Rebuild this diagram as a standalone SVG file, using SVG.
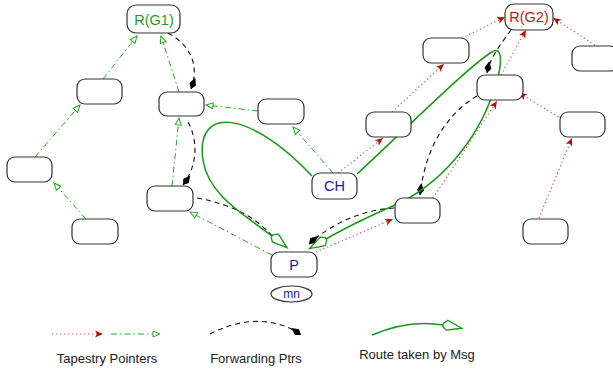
<svg xmlns="http://www.w3.org/2000/svg" width="613" height="372" viewBox="0 0 613 372">
  <style>
    .node rect { fill: #ffffff; stroke: #333333; stroke-width: 1.2; }
    .lbl { font-family: "Liberation Sans", Arial, sans-serif; font-size: 14.5px; text-anchor: middle; dominant-baseline: central; }
    .blue { fill: #1a1aa6; }
    .tap { fill: none; stroke: #dd4444; stroke-width: 1.2; stroke-dasharray: 1.2 2.8; marker-end: url(#redArrow); }
    .par { fill: none; stroke: #22aa22; stroke-width: 1; stroke-dasharray: 6 3 1.5 3; marker-end: url(#greenArrow); }
    .fwd { fill: none; stroke: #111111; stroke-width: 1.1; stroke-dasharray: 5 4; marker-end: url(#fwdArrow); }
    .route { fill: none; stroke: #119911; stroke-width: 1.5; marker-end: url(#routeArrow); }
    .legend { font-family: "Liberation Sans", Arial, sans-serif; font-size: 13px; fill: #222222; text-anchor: middle; }
  </style>
  <defs>
    <marker id="redArrow" markerUnits="userSpaceOnUse" markerWidth="12" markerHeight="10" viewBox="-9 -5 12 10" refX="0" refY="0" orient="auto">
      <path d="M0,0 L-8,-3.5 L-6,0 L-8,3.5 Z" fill="#b01010"/>
    </marker>
    <marker id="greenArrow" markerUnits="userSpaceOnUse" markerWidth="12" markerHeight="10" viewBox="-9 -5 12 10" refX="0" refY="0" orient="auto">
      <path d="M0,0 L-7,-3 L-7,3 Z" fill="#ffffff" stroke="#22aa22" stroke-width="1"/>
    </marker>
    <marker id="fwdArrow" markerUnits="userSpaceOnUse" markerWidth="16" markerHeight="10" viewBox="-14 -5 16 10" refX="0" refY="0" orient="auto">
      <path d="M0,0 L-5,-3.5 L-12,0 L-5,3.5 Z" fill="#000000"/>
    </marker>
    <marker id="routeArrow" markerUnits="userSpaceOnUse" markerWidth="24" markerHeight="14" viewBox="-2 -7 24 14" refX="0" refY="0" orient="auto">
      <path d="M0,-1.5 L4,-5.5 L19,0 L4,4.5 L0,1.5 Z" fill="#ffffff" stroke="#119911" stroke-width="1.3"/>
    </marker>
  </defs>

  <g id="connectors">
    <!-- parent pointers in the G1 tree -->
    <path class="par" d="M103,79 L137,36"/>
    <path class="par" d="M35,157 L80,105"/>
    <path class="par" d="M86,219 L54,183"/>
    <path class="par" d="M179,92 L161,36"/>
    <path class="par" d="M172,186 L179,118"/>
    <path class="par" d="M258,111 L206,105"/>
    <path class="par" d="M333,173 L293,127"/>
    <path class="par" d="M272,255 L190,212"/>

    <!-- parent pointers in the G2 tree -->
    <path class="tap" d="M338,173 L383,138"/>
    <path class="tap" d="M392,112 L444,64"/>
    <path class="tap" d="M462,38 L505,17"/>
    <path class="tap" d="M501,75 L526,30"/>
    <path class="tap" d="M595,45 L553,18"/>
    <path class="tap" d="M562,119 L519,93"/>
    <path class="tap" d="M539,218 L572,138"/>
    <path class="tap" d="M316,252 L393,219"/>
    <path class="tap" d="M433,198 L497,101"/>

    <!-- forwarding pointers -->
    <path class="fwd" d="M168,33 C190,45 200,65 191,89"/>
    <path class="fwd" d="M188,122 C198,140 198,165 183,185"/>
    <path class="fwd" d="M197,198 C235,205 262,220 279,245"/>
    <path class="fwd" d="M511,30 C500,45 490,58 487,73"/>
    <path class="fwd" d="M477,96 C445,115 425,150 420,195"/>
    <path class="fwd" d="M394,208 C360,210 330,225 309,244"/>

    <!-- route of the message -->
    <path class="route" d="M312,176 C250,110 195,105 203,160 C208,195 245,215 272,236"/>
    <path class="route" d="M357,174 C410,125 470,65 492,52 C503,45 503,65 494,90 C478,140 440,185 395,205 C370,216 345,228 326,239"/>
  </g>

  <g id="n-rg1" class="node"><rect x="127" y="5" width="53" height="28" rx="9"/><text class="lbl" x="154" y="19.5" fill="#1f9a1f">R(G1)</text></g>
  <g id="n-a" class="node"><rect x="77" y="79" width="45" height="25" rx="8"/></g>
  <g id="n-b" class="node"><rect x="159" y="92" width="45" height="24" rx="8"/></g>
  <g id="n-c" class="node"><rect x="258" y="99" width="46" height="25" rx="8"/></g>
  <g id="n-d" class="node"><rect x="7" y="157" width="45" height="25" rx="8"/></g>
  <g id="n-e" class="node"><rect x="147" y="186" width="46" height="25" rx="8"/></g>
  <g id="n-f" class="node"><rect x="72" y="219" width="46" height="25" rx="8"/></g>

  <g id="n-rg2" class="node"><rect x="505" y="4" width="48" height="26" rx="9"/><text class="lbl" x="529" y="17" fill="#c01818">R(G2)</text></g>
  <g id="n-g" class="node"><rect x="423" y="38" width="46" height="25" rx="8"/></g>
  <g id="n-h" class="node"><rect x="572" y="46" width="46" height="25" rx="8"/></g>
  <g id="n-i" class="node"><rect x="477" y="75" width="46" height="25" rx="8"/></g>
  <g id="n-j" class="node"><rect x="366" y="112" width="45" height="25" rx="8"/></g>
  <g id="n-k" class="node"><rect x="560" y="112" width="45" height="25" rx="8"/></g>
  <g id="n-l" class="node"><rect x="395" y="198" width="45" height="25" rx="8"/></g>
  <g id="n-m" class="node"><rect x="523" y="219" width="45" height="25" rx="8"/></g>

  <g id="n-ch" class="node"><rect x="312" y="173" width="45" height="26" rx="8"/><text class="lbl blue" x="334.5" y="186">CH</text></g>
  <g id="n-p" class="node"><rect x="271" y="252" width="46" height="25" rx="8"/><text class="lbl blue" x="294" y="264.5">P</text></g>
  <g id="n-mn"><ellipse cx="291.5" cy="294" rx="20.5" ry="8" fill="#ffffff" stroke="#333333" stroke-width="1.2"/><text class="lbl blue" x="291.5" y="294" style="font-size:12px">mn</text></g>

  <g id="legend">
    <path class="tap" d="M52,334 L103,334"/>
    <path class="par" d="M111,334 L160,334"/>
    <text class="legend" x="107" y="363">Tapestry Pointers</text>
    <path class="fwd" d="M210,334 C240,318 275,316 301,335"/>
    <text class="legend" x="256" y="363">Forwarding Ptrs</text>
    <path class="route" d="M372,335 C395,325 420,321 443,325"/>
    <text class="legend" x="417" y="359">Route taken by Msg</text>
  </g>
</svg>
